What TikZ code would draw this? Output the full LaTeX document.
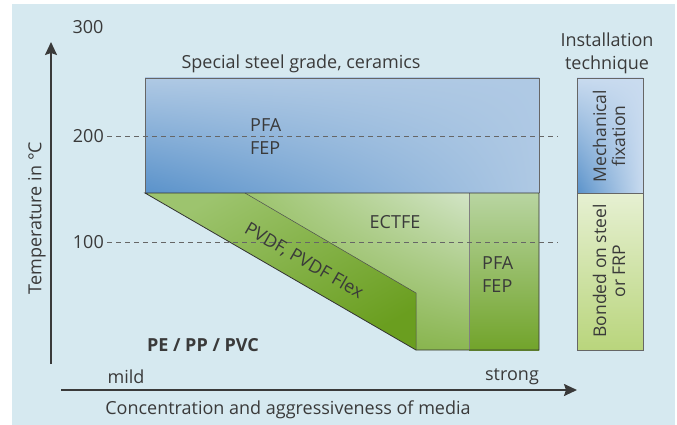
\documentclass[tikz,border=0pt]{standalone}
\usepackage{fontspec}
\setmainfont{Open Sans}
\usetikzlibrary{arrows.meta,shadings}
\definecolor{bgblue}{HTML}{D6E9F0}
\definecolor{txtgray}{HTML}{3A3A3A}
\definecolor{bluedark}{HTML}{5A92CA}
\definecolor{bluelight}{HTML}{AFC9E4}
\definecolor{greendark}{HTML}{6A9E1F}
\definecolor{greenmid}{HTML}{9DC46E}
\definecolor{greenlight}{HTML}{BFD9AE}
\definecolor{greenpale}{HTML}{E6F0D2}
\definecolor{greenlime}{HTML}{B9D57C}
\definecolor{bluepale}{HTML}{C9DBEF}
\tikzset{
  axis/.style={line width=1.8pt, draw=txtgray, -{Stealth[length=13pt,width=12pt,inset=2pt]}},
  gridline/.style={dashed, dash pattern=on 5pt off 4pt, draw=black!60, line width=0.8pt},
  box/.style={draw=black!60, line width=0.6pt},
  lbl/.style={font=\fontsize{18}{23}\selectfont, text=txtgray, inner sep=0pt},
  side/.style={lbl, rotate=90, align=center, font=\fontsize{17.5}{19}\selectfont}
}
\begin{document}
\begin{tikzpicture}[x=1pt,y=-1pt]
  \useasboundingbox (0,0) rectangle (677,425);
  \fill[bgblue] (12,4) rectangle (675,425);
  % special steel / ceramics
  \shade[lower left=bluedark, upper left=bluelight, upper right=bluelight, lower right=bluelight]
    (145,78) rectangle (539,193);
  \draw[box] (145,193) -- (145,78) -- (539,78) -- (539,193);
  % ECTFE
  \shade[lower left=greendark!60!greenmid, lower right=greendark!35!greenmid,
         upper left=greenmid, upper right=greenlight!70!white]
    (245,193) -- (469,193) -- (469,350) -- (416,350) -- (416,293) -- cycle;
  % PFA / FEP
  \shade[top color=greenlight!80!greenmid, bottom color=greendark!85!greenmid]
    (469,193) rectangle (539,350);
  % PVDF
  \shade[top color=greenmid, bottom color=greendark, shading angle=30]
    (145,193) -- (245,193) -- (416,293) -- (416,350) -- cycle;
  \draw[black!70, line width=0.5pt] (245,193) -- (416,293) -- (416,350);
  \draw[black!50, line width=0.8pt] (469,193) -- (469,350);
  \draw[black!80, line width=0.8pt] (145,193) -- (416,350) -- (539,350) -- (539,193) -- cycle;
  % installation technique
  \shade[lower left=bluedark, upper left=bluepale, upper right=bluepale, lower right=bluepale]
    (577,78) rectangle (643,193);
  \shade[top color=greenpale, bottom color=greenlime] (577,193) rectangle (643,350);
  \draw[box] (577,78) rectangle (643,350);
  \draw[box] (577,193) -- (643,193);
  % axes
  \coordinate (ybot) at (51,364);
  \coordinate (ytop) at (51,42);
  \coordinate (xleft) at (61,390);
  \coordinate (xright) at (577,390);
  \draw[axis] (ybot) -- (ytop);
  \draw[axis] (xleft) -- (xright);
  \node[lbl] (t300) at (88,27) {300};
  \node[lbl, anchor=east] (t200) at (104,136) {200};
  \node[lbl, anchor=east] (t100) at (104,242) {100};
  \coordinate (d200) at (558,136);
  \coordinate (d100) at (558,242);
  \draw[gridline] (t200.east) ++(3pt,0) -- (d200);
  \draw[gridline] (t100.east) ++(3pt,0) -- (d100);
  \node[lbl, rotate=90] (ylabel) at (37,218) {Temperature in °C};
  \node[lbl] (xlabel) at (288,410) {Concentration and aggressiveness of media};
  \node[lbl] (mild) at (126,377) {mild};
  \node[lbl] (strong) at (512,377) {strong};
  \node[lbl] (steel) at (301,64) {Special steel grade, ceramics};
  \node[lbl, align=center] (install) at (607,53) {Installation\\technique};
  \node[lbl, align=left, anchor=west] (pfa1) at (250,137) {PFA\\FEP};
  \node[lbl] (ectfe) at (395,222) {ECTFE};
  \node[lbl, align=left, anchor=west] (pfa2) at (482,275) {PFA\\FEP};
  \node[lbl, rotate=-30] (pvdf) at (304,261) {PVDF, PVDF Flex};
  \node[lbl, font=\fontsize{18}{23}\selectfont\bfseries] (pe) at (203,345) {PE / PP / PVC};
  \node[side] (mech) at (609,136) {Mechanical\\fixation};
  \node[side] (bond) at (609,271) {Bonded on steel\\or FRP};
\end{tikzpicture}
\end{document}
